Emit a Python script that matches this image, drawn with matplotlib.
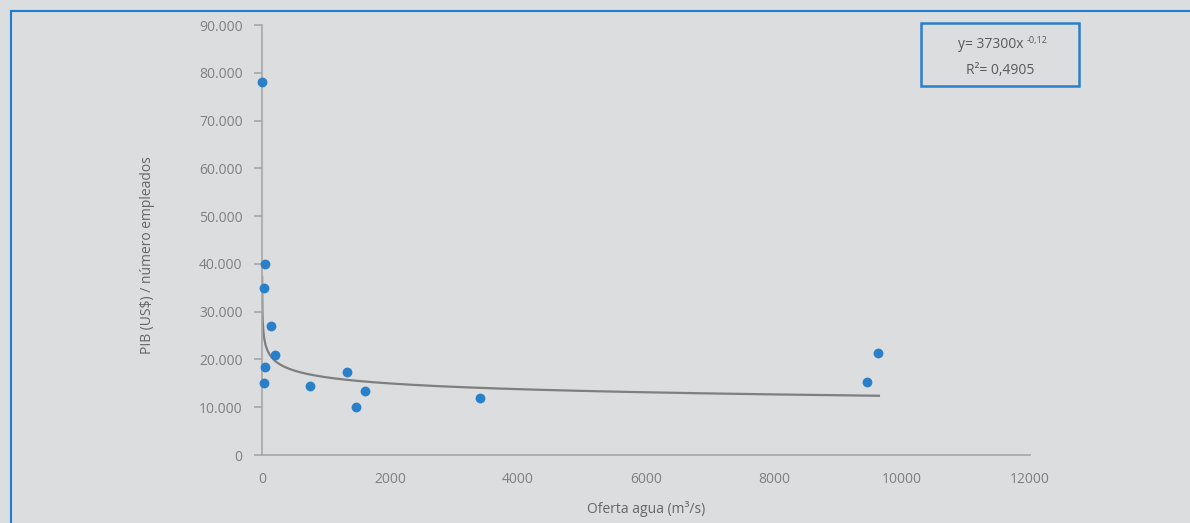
import numpy as np
import matplotlib
matplotlib.use("Agg")
import matplotlib.pyplot as plt
from matplotlib.lines import Line2D
from matplotlib.patches import Rectangle
from matplotlib.ticker import FuncFormatter

# Datos
oferta_agua = [0, 47, 31, 145, 198, 42, 31, 755, 1328, 1473, 1605, 3406, 9453, 9625]
pib_empleado = [78000, 40000, 35000, 27000, 21000, 18500, 15000, 14500, 17300, 10000, 13500, 12000, 15200, 21300]

# Ajuste potencial y = a x^b
a_pot = 37300
b_pot = -0.12
r2 = "0,4905"

gris = "#7f7f7f"
azul = "#2a7fc9"
fondo = "#dcdddf"

plt.rcParams['font.family'] = ['Open Sans', 'DejaVu Sans']

fig = plt.figure(figsize=(11.9, 5.23), dpi=100, facecolor=fondo)
ax = fig.add_axes([0.2202, 0.130, 0.6453, 0.822])
ax.set_facecolor(fondo)

# curva de tendencia
xc = np.linspace(1, 9640, 2000)
ax.plot(xc, a_pot * xc ** b_pot, color=gris, lw=1.6, zorder=2)

ax.scatter(oferta_agua, pib_empleado, s=50, color=azul, zorder=3, linewidths=0, clip_on=False)

ax.set_xlim(0, 12000)
ax.set_ylim(0, 90000)
ax.set_xticks(range(0, 12001, 2000))
ax.set_yticks(range(0, 90001, 10000))
ax.yaxis.set_major_formatter(FuncFormatter(lambda v, p: f"{int(v):,}".replace(",", ".")))

for s in ["top", "right"]:
    ax.spines[s].set_visible(False)
for s in ["left", "bottom"]:
    ax.spines[s].set_color("#a6a6a6")
    ax.spines[s].set_linewidth(1.2)
ax.tick_params(axis="y", colors="#a6a6a6", labelcolor=gris, length=6, width=1.2, labelsize=10, pad=8)
ax.tick_params(axis="x", length=0, labelcolor=gris, labelsize=10, pad=12)

ax.set_xlabel("Oferta agua (m³/s)", color="#666666", fontsize=10, labelpad=10)
ax.set_ylabel("PIB (US$) / número empleados", color="#666666", fontsize=10)
ax.yaxis.set_label_coords(-0.139, 0.465)

# cuadro de la ecuacion
W, H = 1190, 523
fig.patches.append(Rectangle((921 / W, 1 - 86 / H), 158 / W, 63 / H, transform=fig.transFigure,
                             facecolor="none", edgecolor=azul, lw=1.8))
fig.text(991 / W, 1 - 44 / H, f"y= {a_pot}x", ha="center", va="center", color="#595959", fontsize=10)
fig.text(1027 / W, 1 - 40 / H, "-0,12", ha="left", va="center", color="#595959", fontsize=6.5)
fig.text(1000 / W, 1 - 70 / H, f"R²= {r2}", ha="center", va="center", color="#595959", fontsize=10)

# marco exterior
fig.add_artist(Line2D([10.5 / W, 1], [1 - 10.5 / H, 1 - 10.5 / H], transform=fig.transFigure, color="#1f7fcf", lw=1.5))
fig.add_artist(Line2D([10.5 / W, 10.5 / W], [0, 1 - 10.5 / H], transform=fig.transFigure, color="#1f7fcf", lw=1.5))

fig.savefig("out.png", dpi=100, facecolor=fondo)
